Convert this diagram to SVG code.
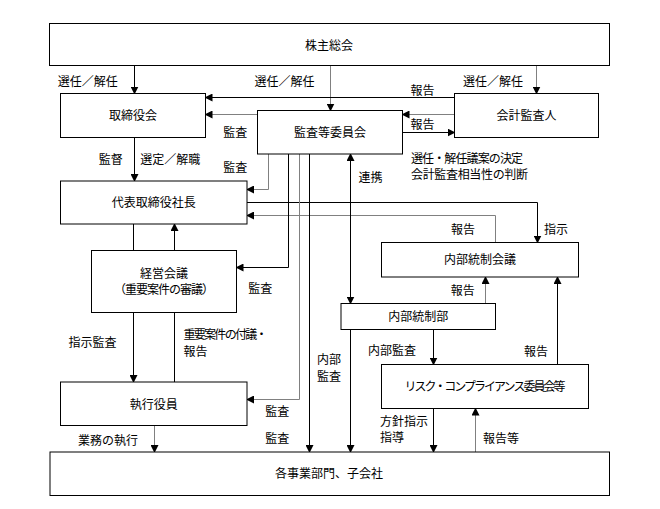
<svg xmlns="http://www.w3.org/2000/svg" width="660" height="509" viewBox="0 0 660 509">
<defs>
<marker id="ah" markerUnits="userSpaceOnUse" markerWidth="8" markerHeight="8" refX="7" refY="4" orient="auto">
<path d="M0,0 L8,4 L0,8 Z" fill="#000"/>
</marker>
<marker id="ahs" markerUnits="userSpaceOnUse" markerWidth="8" markerHeight="8" refX="1" refY="4" orient="auto">
<path d="M8,0 L0,4 L8,8 Z" fill="#000"/>
</marker>
<style>
rect{fill:#fff;stroke:#000;stroke-width:1}
text{font-family:"Noto Sans CJK JP","Noto Sans CJK SC",sans-serif;font-size:12px;fill:#000}
.c{text-anchor:middle}
.k{fill:none;stroke:#000;stroke-width:1}
.g{fill:none;stroke:#808080;stroke-width:1}
.a{marker-end:url(#ah)}
</style>
</defs>
<rect width="660" height="509" style="fill:#fff;stroke:none"/>
<g id="connectors">
<path class="k a" d="M134.5 65.5 V93.5"/>
<path class="g a" d="M330.5 65.5 V110.5"/>
<path class="g a" d="M536.5 65.5 V93.5"/>
<path class="k a" d="M454.5 97.5 H205.5"/>
<path class="g a" d="M257.5 114.5 H205.5"/>
<path class="g a" d="M454.5 114.5 H402.5"/>
<path class="k a" d="M402.5 132.5 H454.5"/>
<path class="k a" d="M134.5 137.5 V181"/>
<path class="g a" d="M268.5 154 V189.5 H247"/>
<path class="k a" d="M247 202.5 H537.5 V242.5"/>
<path class="g a" d="M495.5 242.5 V215.5 H247"/>
<path class="k" d="M133.5 224 V250.5"/>
<path class="k a" d="M133.5 312.5 V382"/>
<path class="k" d="M174.5 382 V312.5"/>
<path class="k a" d="M174.5 250.5 V224"/>
<path class="k a" d="M288.5 154 V267.5 H236.5"/>
<path class="g a" d="M299.5 154 V399.5 H247"/>
<path class="k a" d="M309.5 154 V452"/>
<path class="k a" d="M350.5 154 V303.5" style="marker-start:url(#ahs)"/>
<path class="k a" d="M350.5 329.5 V452"/>
<path class="g a" d="M485.5 303.5 V277"/>
<path class="k a" d="M557.5 364.5 V277"/>
<path class="k a" d="M433.5 329.5 V364.5"/>
<path class="k a" d="M433.5 408.5 V452"/>
<path class="g a" d="M475.5 452 V408.5"/>
<path class="g a" d="M154.5 425.5 V452"/>
</g>
<g id="shareholders"><rect x="49.5" y="23.5" width="560" height="42"/><text class="c" x="329" y="49.5">株主総会</text></g>
<g id="board"><rect x="60.5" y="93.5" width="145" height="44"/><text class="c" x="133" y="120">取締役会</text></g>
<g id="audit-committee"><rect x="257.5" y="110.5" width="145" height="43.5"/><text class="c" x="330" y="136.5">監査等委員会</text></g>
<g id="accounting-auditor"><rect x="454.5" y="93.5" width="144" height="44"/><text class="c" x="526.5" y="120">会計監査人</text></g>
<g id="president"><rect x="60.5" y="181" width="186.5" height="43"/><text class="c" x="153.7" y="207">代表取締役社長</text></g>
<g id="ic-council"><rect x="381.5" y="242.5" width="197" height="34.5"/><text class="c" x="480" y="264">内部統制会議</text></g>
<g id="management-meeting"><rect x="91.5" y="250.5" width="145" height="62"/><text class="c" x="164" y="277.5">経営会議</text><text class="c" x="164" y="293.5" textLength="100">（重要案件の審議）</text></g>
<g id="ic-dept"><rect x="341" y="303.5" width="154.5" height="26"/><text class="c" x="418.3" y="321">内部統制部</text></g>
<g id="risk-committee"><rect x="381.5" y="364.5" width="207" height="44"/><text class="c" x="485" y="391" textLength="161">リスク・コンプライアンス委員会等</text></g>
<g id="officers"><rect x="60.5" y="382" width="186.5" height="43.5"/><text class="c" x="153.7" y="408.5">執行役員</text></g>
<g id="divisions"><rect x="50" y="452" width="559.5" height="43.5"/><text class="c" x="329" y="478">各事業部門、子会社</text></g>
<g id="labels">
<text class="c" x="87.8" y="85.5">選任／解任</text>
<text class="c" x="284.4" y="85.5">選任／解任</text>
<text class="c" x="493" y="85.5">選任／解任</text>
<text class="c" x="422.5" y="94.5">報告</text>
<text class="c" x="422.5" y="128.5">報告</text>
<text class="c" x="235.3" y="136.5">監査</text>
<text class="c" x="235.3" y="172">監査</text>
<text class="c" x="110.8" y="163.5">監督</text>
<text class="c" x="170.2" y="163.5">選定／解職</text>
<text x="411" y="163" textLength="112">選任・解任議案の決定</text>
<text x="411" y="178.5" textLength="117">会計監査相当性の判断</text>
<text class="c" x="370.5" y="181.5">連携</text>
<text class="c" x="463" y="233.5">報告</text>
<text class="c" x="556" y="233.5">指示</text>
<text class="c" x="260.3" y="292.5">監査</text>
<text class="c" x="462.8" y="294.5">報告</text>
<text class="c" x="92.4" y="347">指示監査</text>
<text x="183.5" y="338.5" textLength="84">重要案件の付議・</text>
<text x="183.5" y="355.5">報告</text>
<text class="c" x="392" y="355">内部監査</text>
<text class="c" x="536" y="356">報告</text>
<text class="c" x="329" y="364">内部</text>
<text class="c" x="329" y="380.5">監査</text>
<text class="c" x="277.3" y="416">監査</text>
<text class="c" x="277.3" y="442.5">監査</text>
<text class="c" x="108" y="444.5">業務の執行</text>
<text x="380" y="426">方針指示</text>
<text x="380" y="442">指導</text>
<text class="c" x="501" y="442.5">報告等</text>
</g>
</svg>
